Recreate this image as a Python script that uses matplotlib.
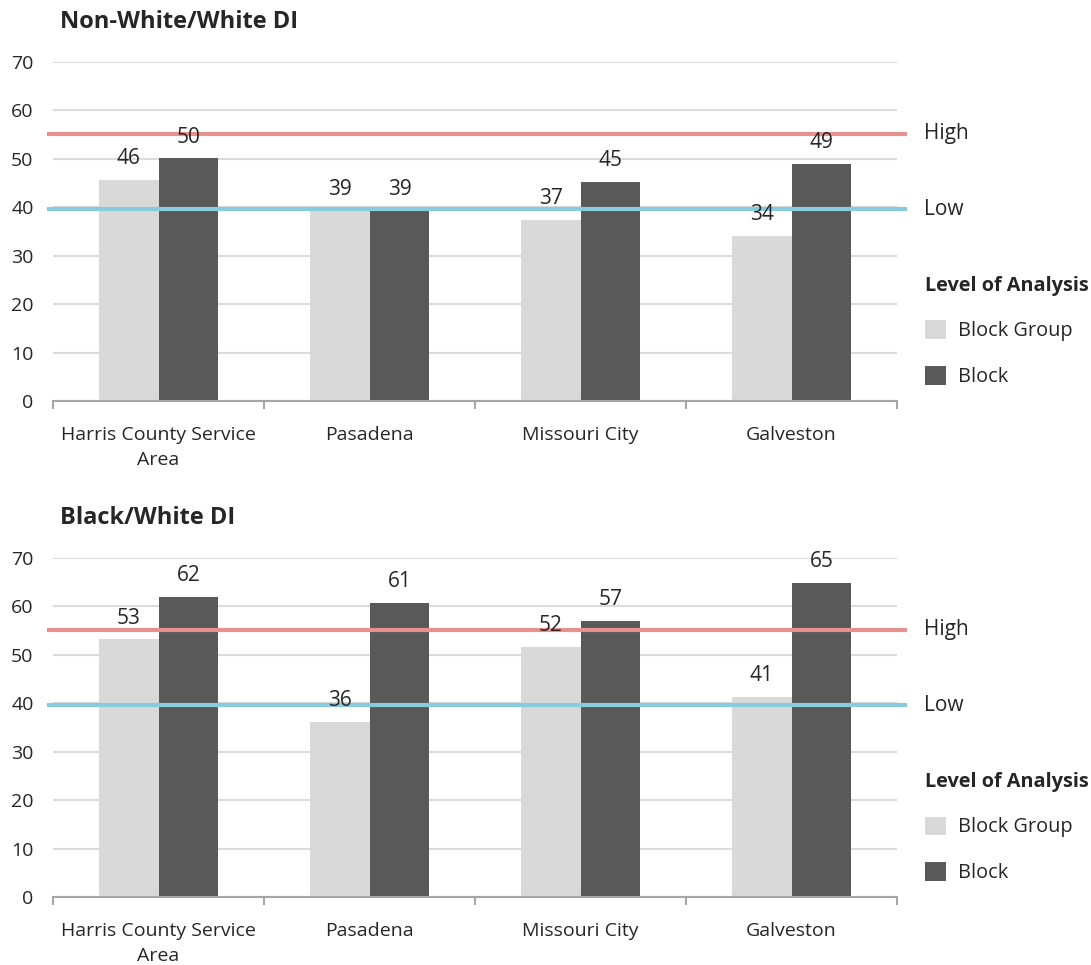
import numpy as np
import matplotlib.pyplot as plt
import matplotlib.transforms as mtransforms

plt.rcParams['font.family'] = ['Open Sans', 'DejaVu Sans']

CITIES = ['Harris County Service\nArea', 'Pasadena', 'Missouri City', 'Galveston']
SERIES = ['Block Group', 'Block']

# Non-White/White DI
NW_BLOCK_GROUP = [45.6, 39.2, 37.4, 34.0]
NW_BLOCK = [50.1, 39.2, 45.2, 49.0]

# Black/White DI
BW_BLOCK_GROUP = [53.2, 36.1, 51.7, 41.3]
BW_BLOCK = [62.0, 60.8, 57.0, 64.8]

HIGH = 55.2
LOW = 39.6

TITLES = ['Non-White/White DI', 'Black/White DI']

BAR_COLORS = ['#d9d9d9', '#595959']
HIGH_COLOR = '#e6918d'
LOW_COLOR = '#86cbe0'
TEXT_COLOR = '#262626'

fig = plt.figure(figsize=(10.91, 9.65), dpi=100)

ax_w = 0.7736
ax_h = 0.3513
axes = [fig.add_axes([0.0486, 0.5845, ax_w, ax_h]),
        fig.add_axes([0.0486, 0.0705, ax_w, ax_h])]

panels = [(NW_BLOCK_GROUP, NW_BLOCK), (BW_BLOCK_GROUP, BW_BLOCK)]

x = np.arange(len(CITIES))
width = 0.284

for ax, (bg, bl), title in zip(axes, panels, TITLES):
    for i, (vals, color, label) in enumerate(zip((bg, bl), BAR_COLORS, SERIES)):
        b = ax.bar(x + (i - 0.5) * width, vals, width, color=color,
                   label=label, zorder=2)
        for rect, v in zip(b, vals):
            ax.text(rect.get_x() + rect.get_width() / 2, v + 4.4,
                    '%d' % round(v), ha='center', va='center',
                    fontsize=15, color=TEXT_COLOR, zorder=4)

    # threshold lines, drawn a little past the plot area
    trans = mtransforms.blended_transform_factory(ax.transAxes, ax.transData)
    for val, color, name in ((HIGH, HIGH_COLOR, 'High'), (LOW, LOW_COLOR, 'Low')):
        ax.plot([-0.53, 3.545], [val, val], color=color, lw=3,
                solid_capstyle='butt', clip_on=False, zorder=3)
        ax.text(1.032, val, name, transform=trans, ha='left', va='center',
                fontsize=15, color=TEXT_COLOR)

    ax.set_xlim(-0.5, 3.5)
    ax.set_ylim(0, 70)
    ax.set_yticks(range(0, 71, 10))
    ax.yaxis.grid(True, color='#dcdcdc', lw=1.5)
    ax.set_axisbelow(True)
    ax.tick_params(axis='y', length=0, pad=14, labelsize=14,
                   labelcolor=TEXT_COLOR)

    ax.set_xticks(x)
    ax.set_xticklabels(CITIES, fontsize=14, color=TEXT_COLOR,
                       linespacing=1.48)
    ax.set_xticks(np.arange(-0.5, 4, 1), minor=True)
    ax.tick_params(axis='x', which='major', length=0, pad=18)
    ax.tick_params(axis='x', which='minor', length=6, color='#a6a6a6',
                   width=1.5)
    for s in ('top', 'right', 'left'):
        ax.spines[s].set_visible(False)
    ax.spines['bottom'].set_color('#a6a6a6')
    ax.spines['bottom'].set_linewidth(1.5)

    ax.text(0.0083, 1.118, title, transform=ax.transAxes, ha='left',
            va='center', fontsize=17, fontweight='bold', color=TEXT_COLOR)

    leg = ax.legend(title='Level of Analysis', loc='upper left',
                    bbox_to_anchor=(1.0237, 0.393), frameon=False,
                    fontsize=14.3, title_fontsize=14.3, handlelength=1.05,
                    handleheight=1.05, labelspacing=1.25, alignment='left',
                    handletextpad=0.6, borderaxespad=0)
    leg.get_title().set_fontweight('bold')
    leg.get_title().set_color(TEXT_COLOR)
    for t in leg.get_texts():
        t.set_color(TEXT_COLOR)

fig.savefig('out.png', dpi=100)
